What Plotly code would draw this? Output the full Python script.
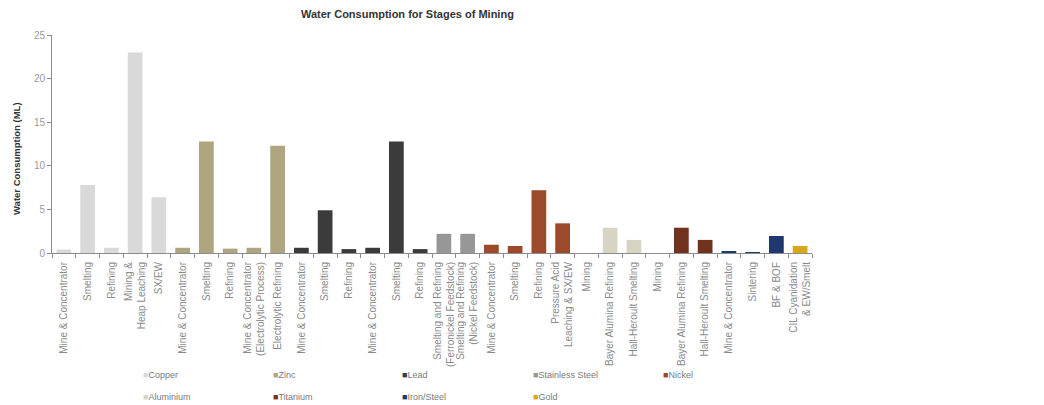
import plotly.graph_objects as go

# Stage labels along the x axis (one per bar, in order)
stages = [
    "Mine & Concentrator", "Smelting", "Refining", "Mining &<br>Heap Leaching", "SX/EW",
    "Mine & Concentrator", "Smelting", "Refining",
    "Mine & Concentrator<br>(Electrolytic Process)", "Electrolytic Refining",
    "Mine & Concentrator", "Smelting", "Refining",
    "Mine & Concentrator", "Smelting", "Refining",
    "Smelting and Refining<br>(Ferronickel Feedstock)", "Smelting and Refining<br>(Nickel Feedstock)",
    "Mine & Concentrator", "Smelting", "Refining", "Pressure Acid<br>Leaching & SX/EW",
    "Mining", "Bayer Alumina Refining", "Hall-Heroult Smelting",
    "Mining", "Bayer Alumina Refining", "Hall-Heroult Smelting",
    "Mine & Concentrator", "Sintering", "BF & BOF",
    "CIL Cyanidation<br>& EW/Smelt",
]

# Water consumption (ML) for each stage
consumption = [
    0.4, 7.8, 0.6, 23.0, 6.4,
    0.6, 12.8, 0.5, 0.6, 12.3,
    0.6, 4.9, 0.45,
    0.6, 12.8, 0.45,
    2.2, 2.2,
    0.95, 0.8, 7.2, 3.4,
    0.0, 2.9, 1.5,
    0.0, 2.9, 1.5,
    0.2, 0.1, 1.95,
    0.8,
]

# Metal each stage belongs to
metal_of_stage = (
    ["Copper"] * 5 + ["Zinc"] * 5 + ["Lead"] * 6 + ["Stainless Steel"] * 2
    + ["Nickel"] * 4 + ["Aluminium"] * 3 + ["Titanium"] * 3 + ["Iron/Steel"] * 3 + ["Gold"]
)

# Series order (legend order) and colours
metals = ["Copper", "Zinc", "Lead", "Stainless Steel", "Nickel",
          "Aluminium", "Titanium", "Iron/Steel", "Gold"]
metal_colors = ["#d9d9d9", "#afa580", "#3b3b3b", "#979797", "#9c4a2b",
                "#d8d4c4", "#72321e", "#1f3870", "#d6a81a"]

positions = list(range(len(stages)))

fig = go.Figure()
for name, color in zip(metals, metal_colors):
    xs = [i for i in positions if metal_of_stage[i] == name]
    ys = [consumption[i] for i in xs]
    fig.add_trace(go.Bar(x=xs, y=ys, name=name, marker=dict(color=color, line=dict(width=0)),
                         showlegend=False))

W, H = 1044, 405
ml, mr, mt, mb = 52, 232, 35, 152
plot_w = W - ml - mr
plot_h = H - mt - mb

axis_grey = "#8c8c8c"
label_grey = "#8a8a8a"

fig.update_layout(
    width=W, height=H,
    margin=dict(l=ml, r=mr, t=mt, b=mb, pad=0),
    paper_bgcolor="white", plot_bgcolor="white",
    barmode="overlay", bargap=0.38,
    font=dict(family="Liberation Sans, Arial, sans-serif", color=label_grey),
    showlegend=False,
)

fig.update_xaxes(
    range=[-0.5, len(stages) - 0.5],
    tickmode="array", tickvals=positions, ticktext=stages,
    tickangle=-90, tickfont=dict(size=10, color=label_grey),
    ticks="", ticklabelstandoff=4,
    showline=True, linecolor=axis_grey, linewidth=1,
    showgrid=False, zeroline=False,
    minor=dict(tickmode="array", tickvals=[p - 0.5 for p in positions] + [len(stages) - 0.5],
               ticks="outside", ticklen=4, tickcolor=axis_grey, showgrid=False),
)

fig.update_yaxes(
    range=[0, 25], tickvals=[0, 5, 10, 15, 20, 25],
    tickfont=dict(size=10, color="#9a9a9a"),
    ticks="outside", ticklen=4, tickcolor=axis_grey,
    showline=True, linecolor=axis_grey, linewidth=1,
    showgrid=False, zeroline=False,
)

# Chart title and y-axis title
fig.add_annotation(
    text="<b>Water Consumption for Stages of Mining</b>",
    xref="paper", yref="paper", x=(407 - ml) / plot_w, y=1 + (mt - 14) / plot_h,
    xanchor="center", yanchor="middle", showarrow=False,
    font=dict(size=11, color="#333333"),
)
fig.add_annotation(
    text="<b>Water Consumption (ML)</b>",
    xref="paper", yref="paper", x=(16 - ml) / plot_w, y=1 - (159 - mt) / plot_h,
    xanchor="center", yanchor="middle", textangle=-90, showarrow=False,
    font=dict(size=9.5, color="#333333"),
)

# Key: two rows of coloured squares with metal names
col_x = [141, 271, 400, 531, 661]
row_y = [375, 397]
for k, (name, color) in enumerate(zip(metals, metal_colors)):
    row, col = divmod(k, 5)
    fig.add_annotation(
        text=f"<span style='color:{color}'>■</span>{name}",
        xref="paper", yref="paper",
        x=(col_x[col] - ml) / plot_w, y=1 - (row_y[row] - mt) / plot_h,
        xanchor="left", yanchor="middle", showarrow=False,
        font=dict(size=9, color="#7a7a7a"),
    )

fig.write_html("out.html")
